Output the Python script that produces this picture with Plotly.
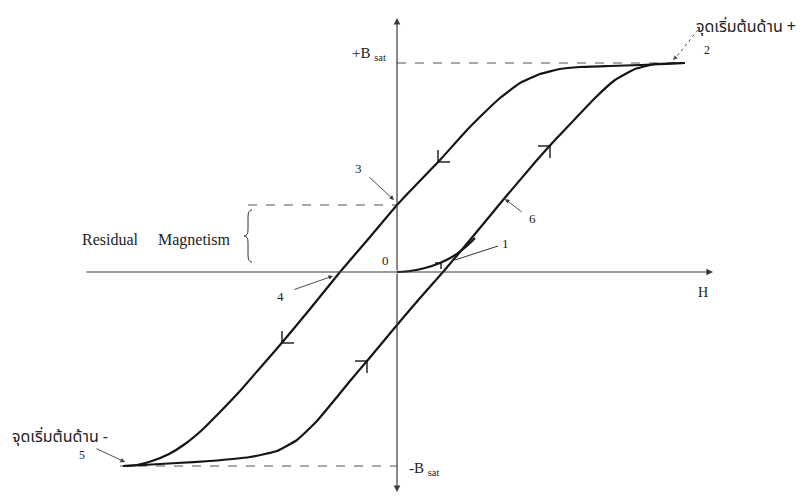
import plotly.graph_objects as go

# ---- Data (H, B in arbitrary units, origin where the axes cross) ----
upper_H = [288, 268, 243, 213, 183, 163, 143, 123, 103, 88, 70, 43, 16, 0, -27, -57, -87,
           -117, -137, -157, -177, -195, -212, -228, -245, -260, -274]
upper_B = [209, 208, 207, 206, 205, 203, 198, 189, 174, 160, 142, 112, 84, 67, 35, 0, -37,
           -73, -96, -119, -140, -158, -172, -182, -189, -193, -194]
lower_H = [-274, -254, -220, -187, -147, -120, -100, -80, -60, -47, -30, 0, 23, 46, 73, 106,
           140, 158, 178, 198, 218, 238, 258, 288]
lower_B = [-194, -193, -191, -189, -185, -179, -168, -149, -125, -109, -89, -53, -26, 0, 32, 72,
           112, 132, 153, 174, 192, 203, 208, 209]
initial_H = [0, 13, 28, 43, 55, 65, 73, 78]
initial_B = [0, 1, 4, 9, 15, 22, 29, 34]

B_SAT_POS = 209
B_SAT_NEG = -194
B_RESIDUAL = 67
H_AT_SAT_POS = 288
H_AT_SAT_NEG = -277
H_RESIDUAL_LINE = -149

# direction chevrons on the branches
down_arrows = [(41, 110), (-115, -71)]   # on the descending branch
up_arrows = [(153, 126), (-30, -89)]     # on the ascending branch
init_arrows = [(44, 9)]

# axis extents
H_MIN, H_MAX = -312, 316
B_MIN, B_MAX = -220, 254

SERIF = "Liberation Serif, Times New Roman, serif"
THAI = "Noto Sans Thai, Tahoma, Loma, Garuda, DejaVu Sans, sans-serif"
CURVE = "#151515"
AX = "#3a3a3a"

fig = go.Figure()

# saturation / residual dashed guides
for xs, ys in [([0, H_AT_SAT_POS], [B_SAT_POS, B_SAT_POS]),
               ([H_AT_SAT_NEG, 0], [B_SAT_NEG, B_SAT_NEG]),
               ([H_RESIDUAL_LINE, 0], [B_RESIDUAL, B_RESIDUAL])]:
    fig.add_trace(go.Scatter(x=xs, y=ys, mode="lines",
                             line=dict(color="#555", width=1.2, dash="dash"), hoverinfo="skip"))

# loop
for hx, by in [(upper_H, upper_B), (lower_H, lower_B), (initial_H, initial_B)]:
    fig.add_trace(go.Scatter(x=hx, y=by, mode="lines",
                             line=dict(color=CURVE, width=2.2, shape="spline", smoothing=0.4),
                             hoverinfo="skip"))

# chevrons
L = 12
cx, cy = [], []
for h, b in down_arrows:
    cx += [h, h, None, h, h + L, None]
    cy += [b, b + L, None, b, b, None]
for h, b in up_arrows:
    cx += [h, h - L, None, h, h, None]
    cy += [b, b, None, b, b - L, None]
for h, b in init_arrows:
    cx += [h, h - 6, None, h, h, None]
    cy += [b, b, None, b, b - 6, None]
fig.add_trace(go.Scatter(x=cx, y=cy, mode="lines", line=dict(color=CURVE, width=1.4),
                         hoverinfo="skip"))

# pointer line for "1" and dotted pointer for "2"
fig.add_trace(go.Scatter(x=[101, 58], y=[26, 12], mode="lines",
                         line=dict(color="#333", width=1), hoverinfo="skip"))
fig.add_trace(go.Scatter(x=[301, 280], y=[242, 216], mode="lines",
                         line=dict(color="#555", width=1, dash="dot"), hoverinfo="skip"))

ann = []

def arrow(x0, y0, x1, y1, width=1.0, size=1.0, head=2, color=AX):
    ann.append(dict(x=x1, y=y1, ax=x0, ay=y0, xref="x", yref="y", axref="x", ayref="y",
                    showarrow=True, arrowhead=head, arrowsize=size, arrowwidth=width,
                    arrowcolor=color, text="", standoff=0, startstandoff=0))

def label(x, y, text, size=13, family=SERIF, xanchor="center", color="#222"):
    ann.append(dict(x=x, y=y, xref="x", yref="y", text=text, showarrow=False,
                    font=dict(family=family, size=size, color=color), xanchor=xanchor,
                    yanchor="middle"))

# axes
arrow(0, 0, 0, B_MAX, width=1.2, size=1.1)
arrow(0, 0, 0, B_MIN, width=1.2, size=1.1)
arrow(H_MIN, 0, H_MAX, 0, width=1.2, size=1.1)

# pointers
arrow(-29, 96, -3, 72, width=0.9)          # 3
arrow(126, 59, 108, 73, width=0.9)         # 6
arrow(-104, -18, -64, -4, width=0.9)       # 4
arrow(-302, -176, -272, -190, width=0.9)   # 5
arrow(280, 216, 276, 212, width=0.9, color="#555")  # 2

# labels
label(349, 245, "จุดเริ่มต้นด้าน +", size=16, family=THAI)
label(310, 222, "2", size=12)
label(-337, -165, "จุดเริ่มต้นด้าน -", size=16, family=THAI)
label(-315, -183, "5", size=12)
label(-9, 218, "+B <sub>sat</sub>", size=15, xanchor="right")
label(10, -197, "-B <sub>sat</sub>", size=15, xanchor="left")
label(306, -20, "H", size=14)
label(-12, 12, "0", size=13)
label(108, 29, "1", size=13)
label(-39, 104, "3", size=13)
label(135, 54, "6", size=13)
label(-117, -24, "4", size=13)
label(-241, 32, "Residual\u00a0\u00a0\u00a0\u00a0\u00a0Magnetism", size=16)

fig.update_layout(annotations=ann)

# brace spanning the residual magnetism (0 .. B_RESIDUAL)
bx = H_RESIDUAL_LINE
top = B_RESIDUAL - 5
bot = 10
mid = (top + bot) / 2
brace = (f"M {bx+4},{top} Q {bx},{top} {bx},{top-7} L {bx},{mid+6} "
         f"Q {bx},{mid} {bx-4},{mid} Q {bx},{mid} {bx},{mid-6} "
         f"L {bx},{bot+7} Q {bx},{bot} {bx+4},{bot}")
fig.add_shape(type="path", path=brace, xref="x", yref="y", line=dict(color="#333", width=1))

# ranges compensate for the page's 8px body margin
fig.update_layout(
    width=805, height=497, margin=dict(l=0, r=0, t=0, b=0),
    paper_bgcolor="white", plot_bgcolor="white", showlegend=False,
    xaxis=dict(range=[-389, 416], visible=False, fixedrange=True),
    yaxis=dict(range=[-233, 264], visible=False, fixedrange=True),
)

fig.write_html("out.html")
